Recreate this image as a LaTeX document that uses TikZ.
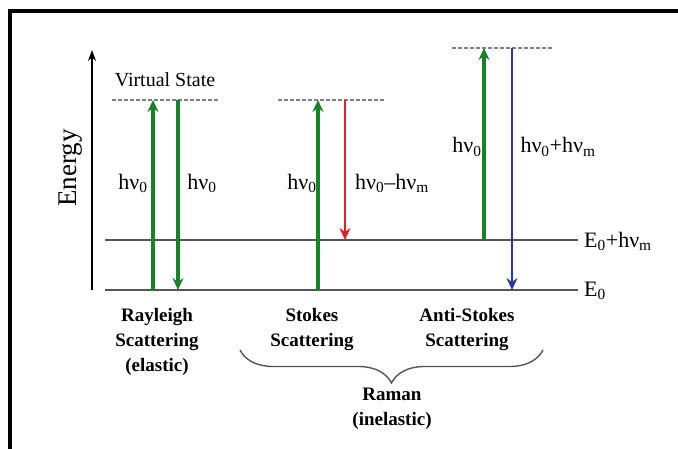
\documentclass[tikz,border=0pt]{standalone}
\usepackage{fontspec}
\setmainfont{Liberation Serif}
\usetikzlibrary{arrows.meta,decorations.pathreplacing}
\definecolor{lvlgray}{RGB}{85,85,85}
\definecolor{upgreen}{RGB}{25,130,40}
\definecolor{dnred}{RGB}{230,30,40}
\definecolor{dnblue}{RGB}{40,55,165}
\tikzset{
  level/.style={draw=lvlgray, line width=1.5pt},
  virt/.style={draw=gray, line width=1.1pt, dash pattern=on 3.5pt off 2.5pt},
  photon/.style={line width=3.1pt, -{Stealth[length=12pt,width=11pt,inset=4pt]}},
  hlabel/.style={font=\fontsize{22}{26}\selectfont, inner sep=1pt},
  caption/.style={font=\bfseries\fontsize{19}{25}\selectfont, align=center, inner sep=0pt},
}
\begin{document}
\begin{tikzpicture}[x=1pt,y=-1pt]
\useasboundingbox (0,0) rectangle (678,449);
\fill[white] (0,0) rectangle (678,449);
% frame
\draw[line width=4pt, line join=miter] (10,449) -- (10,11.5) -- (678,11.5);
% energy axis
\coordinate (axb) at (92,290);
\coordinate (axt) at (92,50);
\draw[line width=1.3pt, -{Stealth[length=11pt,width=8pt]}] (axb) -- (axt);
\node[rotate=90, font=\fontsize{27}{30}\selectfont] (energy) at (71,168) {Energy};
% levels
\coordinate (e0l) at (105,290);
\coordinate (e0r) at (578,290);
\coordinate (e1l) at (105,240);
\coordinate (e1r) at (578,240);
\draw[level] (e0l) -- (e0r);
\draw[level] (e1l) -- (e1r);
\node[hlabel, anchor=west] (lE0) at (583,291) {E\textsubscript{0}};
\node[hlabel, anchor=west] (lE1) at (583,241) {E\textsubscript{0}+hν\textsubscript{m}};
% virtual states
\coordinate (v1l) at (112,100); \coordinate (v1r) at (218,100);
\coordinate (v2l) at (278,100); \coordinate (v2r) at (385,100);
\coordinate (v3l) at (452,48);  \coordinate (v3r) at (552,48);
\draw[virt] (v1l) -- (v1r);
\draw[virt] (v2l) -- (v2r);
\draw[virt] (v3l) -- (v3r);
\node[font=\fontsize{20}{24}\selectfont] (vs) at (165,80) {Virtual State};
% Rayleigh
\coordinate (r1b) at (153,290); \coordinate (r1t) at (153,100);
\coordinate (r2t) at (178,100); \coordinate (r2b) at (178,290);
\draw[photon, draw=upgreen, fill=upgreen] (r1b) -- (r1t);
\draw[photon, draw=upgreen, fill=upgreen] (r2t) -- (r2b);
\node[hlabel] (lr1) at (133,183) {hν\textsubscript{0}};
\node[hlabel] (lr2) at (202,183) {hν\textsubscript{0}};
% Stokes
\coordinate (s1b) at (318,290); \coordinate (s1t) at (318,100);
\coordinate (s2t) at (345,100); \coordinate (s2b) at (345,240);
\draw[photon, draw=upgreen, fill=upgreen] (s1b) -- (s1t);
\draw[photon, line width=2.7pt, draw=dnred, fill=dnred] (s2t) -- (s2b);
\node[hlabel] (ls1) at (302,183) {hν\textsubscript{0}};
\node[hlabel] (ls2) at (392,183) {hν\textsubscript{0}–hν\textsubscript{m}};
% Anti-Stokes
\coordinate (a1b) at (484,240); \coordinate (a1t) at (484,48);
\coordinate (a2t) at (512,48);  \coordinate (a2b) at (512,290);
\draw[photon, draw=upgreen, fill=upgreen] (a1b) -- (a1t);
\draw[photon, line width=2.9pt, draw=dnblue, fill=dnblue] (a2t) -- (a2b);
\node[hlabel] (la1) at (467,147) {hν\textsubscript{0}};
\node[hlabel] (la2) at (558,147) {hν\textsubscript{0}+hν\textsubscript{m}};
% captions
\node[caption] (cr) at (157,342) {Rayleigh\\Scattering\\(elastic)};
\node[caption] (cs) at (312,329.5) {Stokes\\Scattering};
\node[caption] (ca) at (467,329.5) {Anti-Stokes\\Scattering};
\coordinate (bl) at (240,350);
\coordinate (br) at (543,350);
\draw[lvlgray, line width=1.4pt, decorate, decoration={brace, mirror, amplitude=33pt, aspect=0.5}] (bl) -- (br);
\node[caption] (craman) at (392,408.5) {Raman\\(inelastic)};
\end{tikzpicture}
\end{document}
